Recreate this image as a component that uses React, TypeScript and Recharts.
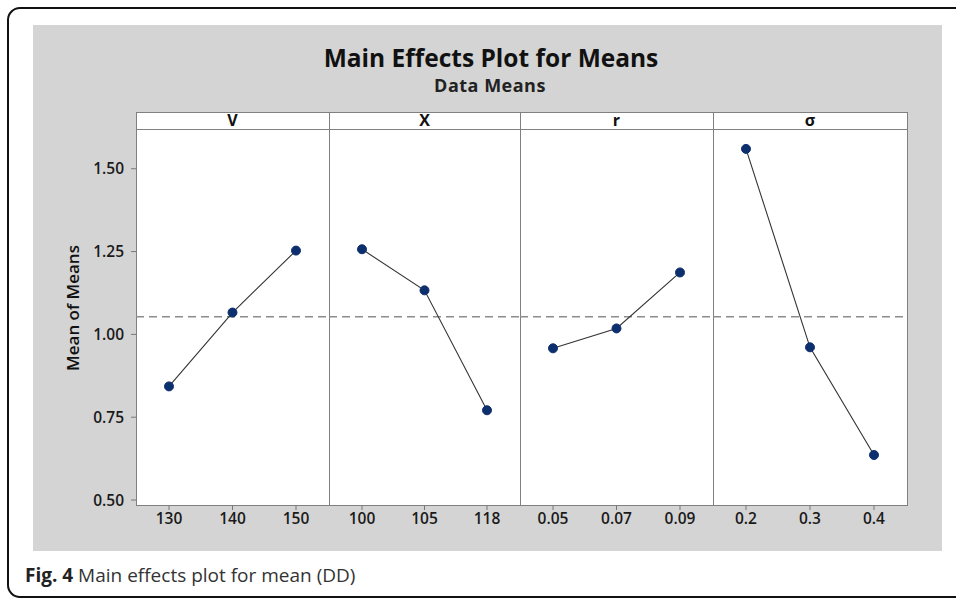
import React from 'react';
import { LineChart, Line, XAxis, YAxis, ReferenceLine } from 'recharts';

// ---- data ----
const factorNames = ['V', 'X', 'r', 'σ'];
const vLevels = ['130', '140', '150'];
const vMeans = [0.843, 1.066, 1.253];
const xLevels = ['100', '105', '118'];
const xMeans = [1.257, 1.133, 0.771];
const rLevels = ['0.05', '0.07', '0.09'];
const rMeans = [0.958, 1.018, 1.187];
const sLevels = ['0.2', '0.3', '0.4'];
const sMeans = [1.56, 0.961, 0.636];
const yTicks = [0.5, 0.75, 1.0, 1.25, 1.5];

const levelSets = [vLevels, xLevels, rLevels, sLevels];
const meanSets = [vMeans, xMeans, rMeans, sMeans];
const allMeans = meanSets.flat();
const grandMean = allMeans.reduce((a, b) => a + b, 0) / allMeans.length;

// ---- layout ----
const panelEdges = [136, 329, 520, 713, 907];
const plotTop = 129;
const plotBottom = 505;
const headerTop = 112;
const yAxisWidth = 76;
const FONT = '"Open Sans", "Noto Sans", sans-serif';

const Panel = ({ k }: { k: number }) => {
  const left = panelEdges[k];
  const w = panelEdges[k + 1] - panelEdges[k];
  const first = k === 0;
  const data = levelSets[k].map((lv, i) => ({ level: lv, mean: meanSets[k][i] }));
  const chartLeft = first ? left - yAxisWidth : left;
  const chartW = first ? w + yAxisWidth : w;
  return (
    <div style={{ position: 'absolute', left: chartLeft, top: plotTop }}>
      <LineChart
        width={chartW}
        height={plotBottom - plotTop + 30}
        data={data}
        margin={{ top: 0, right: 0, bottom: 0, left: 0 }}
      >
        <XAxis
          dataKey="level"
          type="category"
          padding={{ left: 33, right: 33 }}
          axisLine={false}
          tickLine={{ stroke: '#777' }}
          tickSize={5}
          tickMargin={3}
          interval={0}
          height={30}
          tick={{ fontSize: 15.5, fontWeight: 600, fill: '#1a1a1a', fontFamily: FONT }}
        />
        <YAxis
          type="number"
          domain={[0.485, 1.62]}
          allowDataOverflow
          ticks={yTicks}
          tickFormatter={(v: number) => v.toFixed(2)}
          axisLine={false}
          tickLine={{ stroke: '#777' }}
          tickSize={5}
          tickMargin={7}
          width={yAxisWidth}
          hide={!first}
          tick={{ fontSize: 15.5, fontWeight: 600, fill: '#1a1a1a', fontFamily: FONT }}
        />
        <ReferenceLine
          y={grandMean}
          stroke="#8c8c8c"
          strokeWidth={1.5}
          strokeDasharray="8 5"
          ifOverflow="extendDomain"
        />
        <Line
          type="linear"
          dataKey="mean"
          stroke="#333"
          strokeWidth={1.1}
          dot={{ r: 4.5, fill: '#0d2f6e', stroke: '#0d2f6e', strokeWidth: 1 }}
          activeDot={false}
          isAnimationActive={false}
        />
      </LineChart>
    </div>
  );
};

export default function App() {
  return (
    <div
      style={{
        position: 'absolute',
        left: 0,
        top: 0,
        width: 956,
        height: 598,
        overflow: 'hidden',
        background: '#fff',
        fontFamily: FONT,
      }}
    >
      <svg width={956} height={598} style={{ position: 'absolute', left: 0, top: 0 }}>
        <path
          d="M 970 8 H 20 A 12 12 0 0 0 8 20 V 585 A 12 12 0 0 0 20 597 H 970"
          fill="#fff"
          stroke="#111"
          strokeWidth={2}
        />
        <rect x={33} y={25} width={909} height={526} fill="#d4d4d4" />
        <rect x={panelEdges[0]} y={headerTop} width={panelEdges[4] - panelEdges[0]} height={plotBottom - headerTop} fill="#fff" />
        <rect
          x={panelEdges[0] + 0.5}
          y={headerTop + 0.5}
          width={panelEdges[4] - panelEdges[0]}
          height={plotBottom - headerTop}
          fill="none"
          stroke="#808080"
          strokeWidth={1}
        />
        <line x1={panelEdges[0]} x2={panelEdges[4]} y1={plotTop + 0.5} y2={plotTop + 0.5} stroke="#808080" />
        {panelEdges.slice(1, 4).map((x) => (
          <line key={x} x1={x + 0.5} x2={x + 0.5} y1={headerTop} y2={plotBottom} stroke="#808080" />
        ))}
        {factorNames.map((n, k) => (
          <text
            key={n}
            x={(panelEdges[k] + panelEdges[k + 1]) / 2}
            y={126}
            textAnchor="middle"
            fontSize={16}
            fontWeight={700}
            fill="#111"
            fontFamily={FONT}
          >
            {n}
          </text>
        ))}
        <text x={491} y={67} textAnchor="middle" fontSize={24.5} fontWeight={700} fill="#111" fontFamily={FONT}>
          Main Effects Plot for Means
        </text>
        <text x={490} y={92} textAnchor="middle" fontSize={18} fontWeight={700} letterSpacing={0.5} fill="#222" fontFamily={FONT}>
          Data Means
        </text>
        <text
          x={72}
          y={308}
          transform="rotate(-90, 72, 308)"
          textAnchor="middle"
          dominantBaseline="central"
          fontSize={17}
          fontWeight={600}
          fill="#111"
          fontFamily={FONT}
        >
          Mean of Means
        </text>
        <text x={25} y={582} fontSize={19} fill="#333" fontFamily={FONT}>
          <tspan fontWeight={700} fill="#222">Fig. 4</tspan> Main effects plot for mean (DD)
        </text>
      </svg>
      {[0, 1, 2, 3].map((k) => (
        <Panel key={k} k={k} />
      ))}
    </div>
  );
}
